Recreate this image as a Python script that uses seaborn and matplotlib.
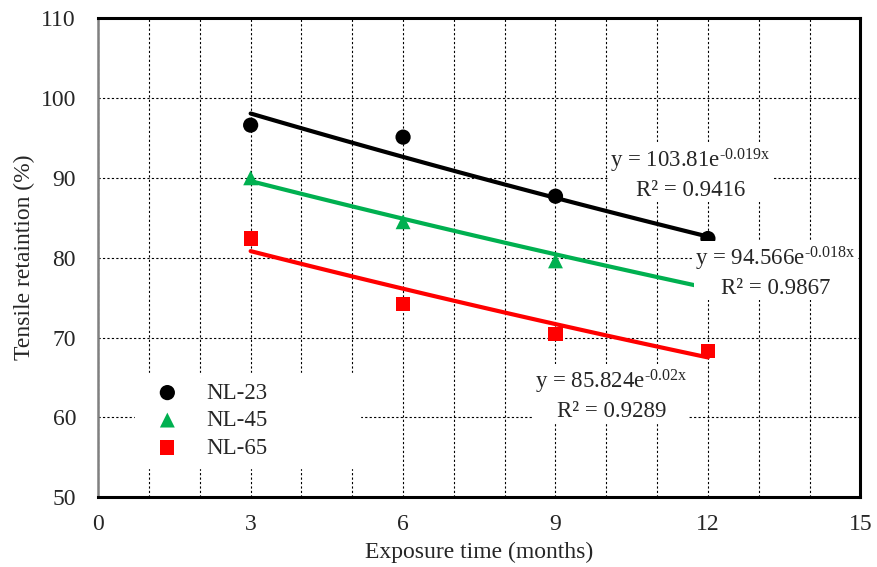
import numpy as np
import pandas as pd
import matplotlib
matplotlib.use("Agg")
import matplotlib.pyplot as plt
import seaborn as sns

# Measured tensile retention (%) after outdoor exposure
months = [3, 6, 9, 12]
nl23 = [96.6, 95.1, 87.7, 82.4]
nl45 = [90.0, 84.5, 79.6]
nl65 = [82.4, 74.2, 70.4, 68.3]

# Exponential trend fits: y = a * exp(b * x)
fit_a = {"NL-23": 103.81, "NL-45": 94.566, "NL-65": 85.824}
fit_b = {"NL-23": -0.019, "NL-45": -0.018, "NL-65": -0.02}
fit_r2 = {"NL-23": 0.9416, "NL-45": 0.9867, "NL-65": 0.9289}
fit_b_txt = {"NL-23": "\u20100.019x", "NL-45": "\u20100.018x", "NL-65": "\u20100.02x"}

series = ["NL-23", "NL-45", "NL-65"]
colors = {"NL-23": "#000000", "NL-45": "#00B050", "NL-65": "#FF0000"}
markers = {"NL-23": "o", "NL-45": "^", "NL-65": "s"}
sizes = {"NL-23": 120, "NL-45": 115, "NL-65": 105}

sns.set_style("white")
plt.rcParams["font.family"] = ["Liberation Serif", "DejaVu Serif"]
plt.rcParams["mathtext.fontset"] = "custom"
plt.rcParams["mathtext.rm"] = "Liberation Serif"
plt.rcParams["mathtext.it"] = "Liberation Serif"

rows = []
for name, vals in zip(series, [nl23, nl45, nl65]):
    for m, v in zip(months, vals):
        rows.append({"month": m, "value": v, "series": name})
df = pd.DataFrame(rows)

trend_rows = []
for name in series:
    xs = np.linspace(3, 12, 50)
    for x in xs:
        trend_rows.append({"month": x, "value": fit_a[name] * np.exp(fit_b[name] * x), "series": name})
tdf = pd.DataFrame(trend_rows)

fig, ax = plt.subplots(figsize=(8.77, 5.67), dpi=100)
fig.subplots_adjust(left=0.112, right=0.981, top=0.968, bottom=0.123)

sns.lineplot(data=tdf, x="month", y="value", hue="series", palette=colors,
             linewidth=3, legend=False, ax=ax, zorder=3)
for name in series:
    sub = df[df.series == name]
    sns.scatterplot(data=sub, x="month", y="value", color=colors[name],
                    marker=markers[name], s=sizes[name], edgecolor="none",
                    label=name, ax=ax, zorder=4)

ax.set_xlim(0, 15)
ax.set_ylim(50, 110)
ax.set_xticks([0, 3, 6, 9, 12, 15])
ax.set_yticks(range(50, 111, 10))
ax.set_xticks(range(0, 16), minor=True)
grid_kw = dict(linestyle=(0, (2, 2)), color="black", linewidth=0.8)
ax.grid(True, which="minor", axis="x", **grid_kw)
ax.grid(True, which="major", axis="x", **grid_kw)
ax.grid(True, which="major", axis="y", **grid_kw)
ax.set_axisbelow(True)
ax.tick_params(axis="both", which="both", length=0, labelsize=17)
ax.tick_params(axis="x", pad=12)
ax.tick_params(axis="y", pad=16)

for side in ["top", "right", "bottom"]:
    ax.spines[side].set_color("black")
    ax.spines[side].set_linewidth(2.2)
ax.spines["left"].set_color("#808080")
ax.spines["left"].set_linewidth(1.8)

ax.set_xlabel("Exposure time (months)", fontsize=17, labelpad=5)
ax.set_ylabel("Tensile retaintion (%)", fontsize=17, labelpad=4)

leg = ax.legend(loc="upper left", bbox_to_anchor=(0.0486, 0.0835, 0.295, 0.175),
                mode="expand", fontsize=16.5, frameon=True, handletextpad=0.7,
                labelspacing=0.28, borderpad=0.4, borderaxespad=0)
leg.get_frame().set_edgecolor("white")
leg.get_frame().set_facecolor("white")
leg.get_frame().set_alpha(1)
leg.set_zorder(5)

label_pos = {"NL-23": (11.65, 90.5), "NL-45": (13.33, 78.2), "NL-65": (10.1, 62.8)}
for name in series:
    x, y = label_pos[name]
    txt = (f"y = {fit_a[name]}e$^{{\\mathrm{{{fit_b_txt[name]}}}}}$\nR² = {fit_r2[name]}")
    ax.text(x, y, txt, ha="center", va="center", fontsize=16.5, linespacing=1.3,
            zorder=6,
            bbox=dict(facecolor="white", edgecolor="none", pad=1))

fig.savefig("out.png", dpi=100)
